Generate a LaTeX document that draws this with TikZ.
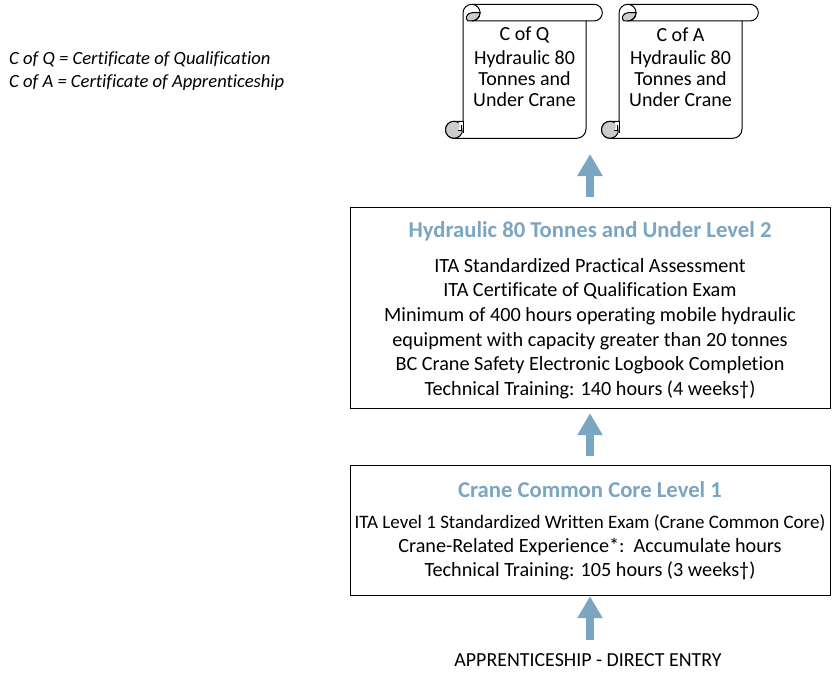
\documentclass[tikz,border=0pt]{standalone}
\usepackage{fontspec}
\setmainfont{Carlito}[Ligatures=NoCommon]
\usetikzlibrary{arrows.meta}
\definecolor{steel}{HTML}{7AA6C2}
\definecolor{curl}{HTML}{CCCCCC}
\tikzset{
  lvlbox/.style={draw=black,line width=1pt,fill=white,inner sep=0pt},
  body/.style={font=\fontsize{20.2}{24.6}\selectfont,align=center,inner sep=0pt,text=black},
  scrolltext/.style={font=\fontsize{20}{21}\selectfont,align=center,inner sep=0pt},
  title/.style={font=\fontsize{22.7}{24}\selectfont\bfseries,text=steel,inner sep=0pt},
  legend/.style={font=\fontsize{18.6}{23}\selectfont\itshape,align=left,inner sep=0pt,anchor=north west},
  uparrow/.style={draw=steel,line width=8pt,-{Triangle[length=22pt,width=24pt]}},
  scrolledge/.style={draw=black,line width=1pt,line join=round,fill=white},
  curlfill/.style={draw=black,line width=1pt,fill=curl}
}
\newcommand{\scrollshape}[1]{%
  \begin{scope}[xshift=#1pt,y=1pt]
    \path[scrolledge] (463,-13) arc[start angle=180,end angle=90,radius=8.7] -- (594,-4.3)
      arc[start angle=90,end angle=-90,radius=8.35] -- (586,-21) -- (586,-129)
      arc[start angle=0,end angle=-90,radius=9.3] -- (454,-138.3)
      arc[start angle=270,end angle=90,radius=8.5] -- (463,-121.3) -- cycle;
    \path[curlfill] (454,-138.3) arc[start angle=-90,end angle=270,radius=8.5] -- cycle;
    \fill[white] (458,-122.5) -- (462.5,-122.5) -- (462.5,-130.5) -- (458,-130.5)
      .. controls (460.5,-128) and (460.5,-125) .. cycle;
    \draw[black,line width=1pt] (463,-121.3) -- (463,-133) (458,-130.5) -- (461,-130.5) -- (461,-125);
    \path[curlfill] (480.05,-12.65) arc[start angle=0,end angle=-90,radius=8.35] -- (468,-21)
      .. controls (464.5,-19) and (466.5,-12.5) .. (473,-12.5) -- cycle;
    \draw[black,line width=1pt] (471.7,-4.3) arc[start angle=90,end angle=-90,radius=8.35] -- (586,-21);
  \end{scope}}
\begin{document}
\begin{tikzpicture}[x=1pt,y=-1pt]
\useasboundingbox (0,0) rectangle (835,677);
\scrollshape{0}
\scrollshape{156}
\node[scrolltext] (cq) at (524.5,35) {C of Q};
\node[scrolltext,anchor=north] (cqb) at (524.5,50) {Hydraulic 80\\Tonnes and\\Under Crane};
\node[scrolltext] (ca) at (680.5,35) {C of A};
\node[scrolltext,anchor=north] (cab) at (680.5,50) {Hydraulic 80\\Tonnes and\\Under Crane};
\node[lvlbox,minimum width=480pt,minimum height=201pt] (lvltwo) at (590.7,308.2) {};
\node[lvlbox,minimum width=480pt,minimum height=130pt] (lvlone) at (590.7,530.7) {};
\node[title] (lvltwot) at (590,231) {Hydraulic 80 Tonnes and Under Level 2};
\node[body,anchor=north] (lvltwob) at (590,258) {ITA Standardized Practical Assessment\\ITA Certificate of Qualification Exam\\Minimum of 400 hours operating mobile hydraulic\\equipment with capacity greater than 20 tonnes\\BC Crane Safety Electronic Logbook Completion\\Technical Training: 140 hours (4 weeks†)};
\node[title] (lvlonet) at (590,490) {Crane Common Core Level 1};
\node[body,anchor=north,font=\fontsize{20.2}{24.3}\selectfont] (lvloneb) at (590,514) {{\fontsize{19}{24.3}\selectfont ITA Level 1 Standardized Written Exam (Crane Common Core)}\\Crane-Related Experience*:\ \ Accumulate hours\\Technical Training: 105 hours (3 weeks†)};
\node[body,font=\fontsize{19.9}{24}\selectfont] (entry) at (588,660) {APPRENTICESHIP - DIRECT ENTRY};
\node[legend] (key) at (9,51) {C of Q = Certificate of Qualification\\C of A = Certificate of Apprenticeship};
\coordinate (topgoal) at (590,154);
\draw[uparrow] (lvltwo.north -| topgoal) ++(0,-10.5) coordinate (a1) (a1) -- (topgoal);
\draw[uparrow,shorten <=9pt,shorten >=4pt] (lvlone.north -| topgoal) -- (lvltwo.south -| topgoal);
\draw[uparrow] (entry.north -| topgoal) ++(0,-13) coordinate (a3) (a3) -- (lvlone.south -| topgoal);
\end{tikzpicture}
\end{document}
